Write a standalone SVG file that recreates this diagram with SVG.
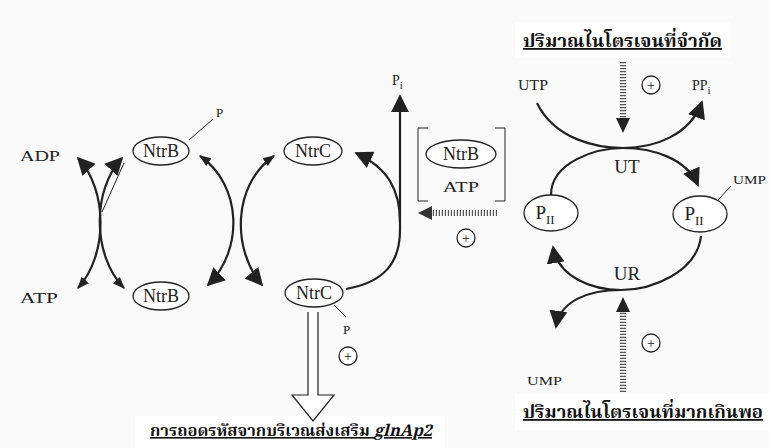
<svg xmlns="http://www.w3.org/2000/svg" width="769" height="448" viewBox="0 0 769 448">
<style>
.lbl{font-family:"Liberation Serif","Times New Roman",serif;fill:#222;}
.node{fill:#fff;stroke:#222;stroke-width:1.3;}
.ln{fill:none;stroke:#222;stroke-width:2.2;}
.thin{fill:none;stroke:#222;stroke-width:1;}
.dot{fill:none;stroke:#555;stroke-width:6;stroke-dasharray:1.2 1.8;}
.th{font-family:"Noto Serif Thai","Noto Sans Thai","Loma","Garuda","DejaVu Sans",sans-serif;font-weight:bold;fill:#111;text-decoration:underline;}
.ah{fill:#222;}
</style>
<defs>
<marker id="bigH" viewBox="0 0 10 10" refX="9" refY="5" markerWidth="18" markerHeight="18" markerUnits="userSpaceOnUse" orient="auto-start-reverse"><path d="M0,0 L10,5 L0,10 z" class="ah"/></marker>
<marker id="sm" viewBox="0 0 10 10" refX="9" refY="5" markerWidth="12" markerHeight="12" markerUnits="userSpaceOnUse" orient="auto-start-reverse"><path d="M0,1 L10,5 L0,9 z" class="ah"/></marker>
</defs>
<rect width="769" height="448" fill="#fafafa"/>
<rect x="515" y="22" width="215" height="36" fill="#fff"/>
<rect x="515" y="394" width="254" height="36" fill="#fff"/>
<rect x="135" y="416" width="310" height="32" fill="#fff"/>

<g id="connectors">
  <path class="ln" d="M78,158 C108,190 108,255 78,288" marker-start="url(#bigH)" marker-end="url(#sm)"/>
  <path class="ln" d="M122,158 C92,190 92,255 124,288" marker-start="url(#bigH)" marker-end="url(#sm)"/>
  <path class="thin" d="M102,212 L124,163"/>
  <path class="ln" d="M200,156 C242,185 244,250 208,285" marker-start="url(#sm)" marker-end="url(#bigH)"/>
  <path class="ln" d="M274,156 C232,185 232,250 262,285" marker-start="url(#sm)" marker-end="url(#bigH)"/>
  <path class="ln" d="M346,289 C385,282 400,262 400,230 L400,96" marker-end="url(#bigH)"/>
  <path class="ln" d="M400,222 C400,190 388,168 356,153" marker-end="url(#bigH)"/>
  <path class="dot" d="M497,213 L430,213"/>
  <path d="M418,213 L432,206 L432,220 z" fill="#333"/>
  <path class="thin" d="M189,140 L213,119"/>
  <path class="thin" d="M334,305 L346,317"/>
  <path fill="#fff" stroke="#222" stroke-width="1.2" d="M308,312 L308,395 L292,395 L313,421 L334,395 L318,395 L318,312"/>
  <path class="dot" d="M623,62 L623,118"/>
  <path d="M623,133 L616,118 L630,118 z" fill="#222"/>
  <path class="ln" d="M537,103 C555,140 598,148 623,148 C655,148 690,135 702,102" marker-end="url(#bigH)"/>
  <path class="ln" d="M551,195 C551,162 596,148 623,148 C652,148 686,158 698,185" marker-end="url(#bigH)"/>
  <path class="thin" d="M718,200 L731,186"/>
  <path class="ln" d="M701,236 C697,272 652,290 621,290 C592,290 558,277 553,247" marker-end="url(#bigH)"/>
  <path class="ln" d="M621,290 C590,290 560,300 556,327" marker-end="url(#bigH)"/>
  <path class="dot" d="M623,392 L623,312"/>
  <path d="M623,297 L616,312 L630,312 z" fill="#222"/>
</g>

<g id="adp"><text class="lbl" x="20" y="161" font-size="15" textLength="40" lengthAdjust="spacingAndGlyphs">ADP</text></g>
<g id="atp"><text class="lbl" x="20" y="303" font-size="15" textLength="38" lengthAdjust="spacingAndGlyphs">ATP</text></g>

<g id="ntrb-p">
  <ellipse class="node" cx="161" cy="151" rx="28" ry="14"/>
  <text class="lbl" x="161" y="157" font-size="18" text-anchor="middle">NtrB</text>
  <text class="lbl" x="216" y="117" font-size="13">P</text>
</g>
<g id="ntrb">
  <ellipse class="node" cx="161" cy="296" rx="28" ry="14"/>
  <text class="lbl" x="161" y="302" font-size="18" text-anchor="middle">NtrB</text>
</g>
<g id="ntrc">
  <ellipse class="node" cx="313" cy="151" rx="29" ry="14"/>
  <text class="lbl" x="313" y="157" font-size="18" text-anchor="middle">NtrC</text>
</g>
<g id="ntrc-p">
  <ellipse class="node" cx="314" cy="293" rx="29" ry="14"/>
  <text class="lbl" x="314" y="299" font-size="18" text-anchor="middle">NtrC</text>
  <text class="lbl" x="343" y="334" font-size="13">P</text>
</g>
<g id="pi"><text class="lbl" x="392" y="85" font-size="14">P<tspan font-size="11" dy="4">i</tspan></text></g>

<g id="ntrb-atp">
  <path class="thin" stroke-width="1.3" d="M428,128 L418,128 L418,201 L428,201"/>
  <path class="thin" stroke-width="1.3" d="M495,128 L505,128 L505,201 L495,201"/>
  <ellipse class="node" cx="461" cy="154" rx="35" ry="14"/>
  <text class="lbl" x="461" y="160" font-size="18" text-anchor="middle">NtrB</text>
  <text class="lbl" x="461" y="192" font-size="15" text-anchor="middle" textLength="36" lengthAdjust="spacingAndGlyphs">ATP</text>
</g>
<g id="plus1"><circle cx="466" cy="238" r="9" class="node"/><text class="lbl" x="466" y="243" font-size="14" text-anchor="middle">+</text></g>
<g id="plus2"><circle cx="348" cy="356" r="9" class="node"/><text class="lbl" x="348" y="361" font-size="14" text-anchor="middle">+</text></g>

<g id="title-bottom"><text class="th" x="150" y="436" font-size="16" textLength="282" lengthAdjust="spacingAndGlyphs">การถอดรหัสจากบริเวณส่งเสริม <tspan font-style="italic">glnAp2</tspan></text></g>

<g id="title-limit"><text class="th" x="523" y="47" font-size="18" textLength="199" lengthAdjust="spacingAndGlyphs">ปริมาณไนโตรเจนที่จำกัด</text></g>
<g id="title-excess"><text class="th" x="523" y="418" font-size="18" textLength="240" lengthAdjust="spacingAndGlyphs">ปริมาณไนโตรเจนที่มากเกินพอ</text></g>

<g id="utp"><text class="lbl" x="518" y="90" font-size="14" textLength="30" lengthAdjust="spacingAndGlyphs">UTP</text></g>
<g id="ppi"><text class="lbl" x="692" y="90" font-size="14">PP<tspan font-size="11" dy="4">i</tspan></text></g>
<g id="plus3"><circle cx="651" cy="85" r="9" class="node"/><text class="lbl" x="651" y="90" font-size="14" text-anchor="middle">+</text></g>
<g id="ut"><text class="lbl" x="627" y="173" font-size="19" text-anchor="middle">UT</text></g>
<g id="ump1"><text class="lbl" x="733" y="184" font-size="13" textLength="33" lengthAdjust="spacingAndGlyphs">UMP</text></g>
<g id="pii-left">
  <ellipse class="node" cx="551" cy="213" rx="27" ry="18"/>
  <text class="lbl" x="545" y="219" font-size="19" text-anchor="middle">P<tspan font-size="13" dy="5">II</tspan></text>
</g>
<g id="pii-right">
  <ellipse class="node" cx="700" cy="214" rx="27" ry="18"/>
  <text class="lbl" x="694" y="220" font-size="19" text-anchor="middle">P<tspan font-size="13" dy="5">II</tspan></text>
</g>
<g id="ur"><text class="lbl" x="627" y="280" font-size="19" text-anchor="middle">UR</text></g>
<g id="ump2"><text class="lbl" x="527" y="385" font-size="13" textLength="35" lengthAdjust="spacingAndGlyphs">UMP</text></g>
<g id="plus4"><circle cx="651" cy="343" r="9" class="node"/><text class="lbl" x="651" y="348" font-size="14" text-anchor="middle">+</text></g>
</svg>
